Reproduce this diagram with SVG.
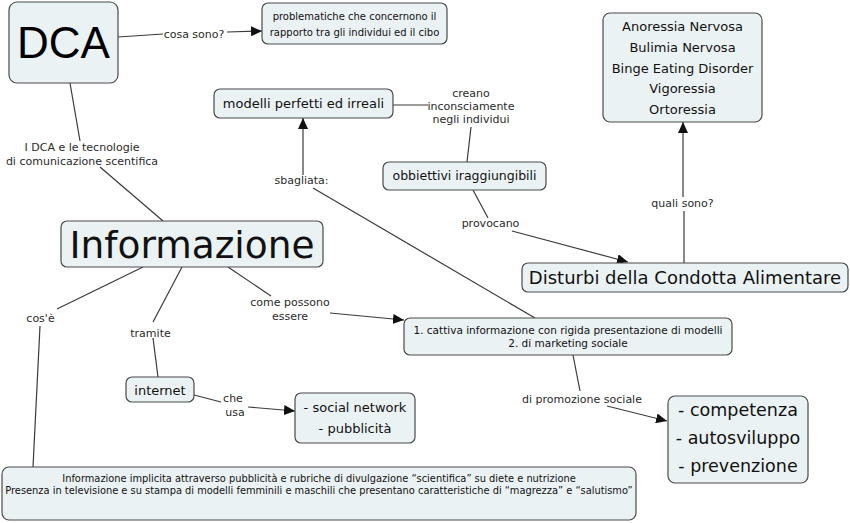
<svg xmlns="http://www.w3.org/2000/svg" width="850" height="523" viewBox="0 0 850 523">
<defs>
<marker id="arr" markerUnits="userSpaceOnUse" markerWidth="12" markerHeight="10" refX="11" refY="5" orient="auto"><path d="M0,0 L11,5 L0,10 z" fill="#111"/></marker>
<style>
.n{fill:#ebf2f4;stroke:#4a4a4a;stroke-width:1.2}
.t{font-family:"DejaVu Sans",Verdana,sans-serif;fill:#111;text-anchor:middle}
.l{font-family:"DejaVu Sans",Verdana,sans-serif;fill:#2a2a2a;text-anchor:middle;font-size:11px}
.c line{stroke:#3a3a3a;stroke-width:1.2;fill:none}
.a{marker-end:url(#arr)}
</style>
</defs>
<rect width="850" height="523" fill="#fff"/>
<g class="c" id="connectors">
<line x1="118" y1="37" x2="163" y2="34"/>
<line class="a" x1="227" y1="32" x2="262" y2="31"/>
<line x1="70" y1="83" x2="80" y2="141"/>
<line x1="100" y1="167" x2="163" y2="221"/>
<line x1="393" y1="105" x2="428" y2="105"/>
<line x1="471" y1="127" x2="467" y2="162"/>
<line x1="473" y1="190" x2="488" y2="218"/>
<line class="a" x1="512" y1="231" x2="628" y2="262"/>
<line x1="684" y1="263" x2="684" y2="211"/>
<line class="a" x1="683" y1="197" x2="683" y2="122"/>
<line x1="535" y1="318" x2="313" y2="188"/>
<line class="a" x1="303" y1="175" x2="303" y2="118"/>
<line x1="228" y1="267" x2="271" y2="296"/>
<line class="a" x1="330" y1="313" x2="404" y2="320"/>
<line x1="143" y1="267" x2="57" y2="309"/>
<line x1="40" y1="326" x2="33" y2="467"/>
<line x1="182" y1="267" x2="153" y2="322"/>
<line x1="153" y1="338" x2="158" y2="377"/>
<line x1="194" y1="395" x2="221" y2="402"/>
<line class="a" x1="248" y1="407" x2="295" y2="411"/>
<line x1="573" y1="355" x2="580" y2="391"/>
<line class="a" x1="607" y1="406" x2="667" y2="421"/>
</g>
<g id="edge-labels">
<text class="l" x="194" y="38">cosa sono?</text>
<text class="l" x="82" y="151">I DCA e le tecnologie</text>
<text class="l" x="82" y="164.5">di comunicazione scentifica</text>
<text class="l" x="471" y="96.5">creano</text>
<text class="l" x="471" y="110">inconsciamente</text>
<text class="l" x="471" y="123">negli individui</text>
<text class="l" x="301.5" y="184">sbagliata:</text>
<text class="l" x="490.5" y="227">provocano</text>
<text class="l" x="682.5" y="207">quali sono?</text>
<text class="l" x="290" y="306">come possono</text>
<text class="l" x="290" y="320">essere</text>
<text class="l" x="40.5" y="322">cos'è</text>
<text class="l" x="150.5" y="337">tramite</text>
<text class="l" x="233" y="402">che</text>
<text class="l" x="235" y="416">usa</text>
<text class="l" x="582" y="403">di promozione sociale</text>
</g>
<g id="dca">
<rect class="n" x="9" y="2" width="109" height="81" rx="8"/>
<text x="63.5" y="58" font-family="'Liberation Sans',Arial,sans-serif" font-size="44" text-anchor="middle" fill="#000">DCA</text>
</g>
<g id="problematiche">
<rect class="n" x="262" y="3" width="185" height="41" rx="6"/>
<text class="t" x="354.5" y="19.5" font-size="10">problematiche che concernono il</text>
<text class="t" x="354.5" y="35.5" font-size="10">rapporto tra gli individui ed il cibo</text>
</g>
<g id="modelli">
<rect class="n" x="214" y="89" width="179" height="29" rx="6"/>
<text class="t" x="303.5" y="108" font-size="13">modelli perfetti ed irreali</text>
</g>
<g id="obbiettivi">
<rect class="n" x="383" y="162" width="163" height="28" rx="6"/>
<text class="t" x="464.5" y="180" font-size="12.5">obbiettivi iraggiungibili</text>
</g>
<g id="disturbi-lista">
<rect class="n" x="603" y="13" width="159" height="109" rx="7"/>
<text class="t" x="682.5" y="31" font-size="13">Anoressia Nervosa</text>
<text class="t" x="682.5" y="52" font-size="13">Bulimia Nervosa</text>
<text class="t" x="682.5" y="73" font-size="13">Binge Eating Disorder</text>
<text class="t" x="682.5" y="93" font-size="13">Vigoressia</text>
<text class="t" x="682.5" y="114" font-size="13">Ortoressia</text>
</g>
<g id="disturbi">
<rect class="n" x="522" y="263" width="326" height="29" rx="6"/>
<text class="t" x="685" y="284" font-size="18">Disturbi della Condotta Alimentare</text>
</g>
<g id="informazione">
<rect class="n" x="61" y="221" width="262" height="46" rx="6"/>
<text class="t" x="192" y="258" font-size="37.5">Informazione</text>
</g>
<g id="cattiva">
<rect class="n" x="404" y="318" width="328" height="37" rx="6"/>
<text class="t" x="568" y="334" font-size="10.5">1. cattiva informazione con rigida presentazione di modelli</text>
<text class="t" x="568" y="346.5" font-size="10.5">2. di marketing sociale</text>
</g>
<g id="internet">
<rect class="n" x="126" y="377" width="68" height="25" rx="6"/>
<text class="t" x="160" y="395" font-size="13">internet</text>
</g>
<g id="social">
<rect class="n" x="295" y="393" width="120" height="50" rx="6"/>
<text class="t" x="355" y="412" font-size="13">- social network</text>
<text class="t" x="355" y="433" font-size="13">- pubblicità</text>
</g>
<g id="competenza">
<rect class="n" x="668" y="396" width="140" height="87" rx="7"/>
<text class="t" x="738" y="416" font-size="17.5">- competenza</text>
<text class="t" x="738" y="444" font-size="17.5">- autosviluppo</text>
<text class="t" x="738" y="472" font-size="17.5">- prevenzione</text>
</g>
<g id="informazione-implicita">
<rect class="n" x="2" y="467" width="634" height="53" rx="7"/>
<text class="t" x="319" y="481.5" font-size="9.85">Informazione implicita attraverso pubblicità e rubriche di divulgazione “scientifica” su diete e nutrizione</text>
<text class="t" x="319" y="493.5" font-size="9.85">Presenza in televisione e su stampa di modelli femminili e maschili che presentano caratteristiche di “magrezza” e “salutismo”</text>
</g>
</svg>
